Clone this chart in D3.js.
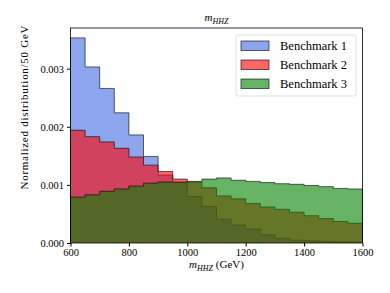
<!DOCTYPE html>
<html>
<head>
<meta charset="utf-8">
<script src="https://cdn.jsdelivr.net/npm/d3@7"></script>
<style>
    body { margin: 0; background: #fff; }
    svg text { font-family: "Liberation Serif", "Times New Roman", Times, "DejaVu Serif", serif; fill: #000; }
</style>
</head>
<body>
<div id="chart"></div>
<script>
// lower bin edges (GeV), each bin is 50 GeV wide
let binStarts = [600, 650, 700, 750, 800, 850, 900, 950, 1000, 1050,
    1100, 1150, 1200, 1250, 1300, 1350, 1400, 1450, 1500, 1550];
let binWidth = 50;

let benchmark1 = [0.00353, 0.00303, 0.00266, 0.00224, 0.00186, 0.00149, 0.00117, 0.00104, 0.00080, 0.00063,
    0.00041, 0.00031, 0.00024, 0.00014, 0.00008, 0.00005, 0.00004, 0.00003, 0.00002, 0.00002];
let benchmark2 = [0.00194, 0.00183, 0.00174, 0.00163, 0.00148, 0.00134, 0.00123, 0.00110, 0.00105, 0.00095,
    0.00081, 0.00076, 0.00068, 0.00062, 0.00058, 0.00053, 0.00047, 0.00042, 0.00037, 0.00034];
let benchmark3 = [0.00079, 0.00083, 0.00089, 0.00093, 0.00098, 0.00103, 0.00105, 0.00105, 0.00106, 0.00110,
    0.00112, 0.00108, 0.00106, 0.00104, 0.00102, 0.00101, 0.00099, 0.00097, 0.00094, 0.00093];

let seriesNames = ['Benchmark 1', 'Benchmark 2', 'Benchmark 3'];
let seriesColors = ['royalblue', 'red', 'green'];
let xTicks = [600, 800, 1000, 1200, 1400, 1600];
let yTicks = [0, 0.001, 0.002, 0.003];

let series = [benchmark1, benchmark2, benchmark3];
let serif = '"Liberation Serif", "Times New Roman", Times, "DejaVu Serif", serif';

let margin = { top: 28, right: 27.5, bottom: 50, left: 70.5 };
let totalWidth = 390;
let totalHeight = 293;
let innerWidth = totalWidth - margin.left - margin.right;
let innerHeight = totalHeight - margin.top - margin.bottom;

var x = d3.scaleLinear().domain([600, 1600]).range([0, innerWidth]);
var y = d3.scaleLinear().domain([0, 0.0037]).range([innerHeight, 0]);

var svg = d3.select("#chart").append("svg")
    .attr("width", totalWidth)
    .attr("height", totalHeight)
    .attr("font-family", serif)
    .append("g")
    .attr("transform", "translate(" + margin.left + "," + margin.top + ")");

// step outline for one histogram
function stepPath(values) {
    let pts = [[x(binStarts[0]), y(0)]];
    values.forEach(function(v, i) {
        pts.push([x(binStarts[i]), y(v)]);
        pts.push([x(binStarts[i] + binWidth), y(v)]);
    });
    pts.push([x(binStarts[binStarts.length - 1] + binWidth), y(0)]);
    return d3.line()(pts);
}

svg.selectAll(".hist")
    .data(series)
    .enter().append("path")
    .attr("class", "hist")
    .attr("d", stepPath)
    .attr("fill", function(d, i) { return seriesColors[i]; })
    .attr("fill-opacity", 0.6)
    .attr("stroke", "black")
    .attr("stroke-opacity", 0.6)
    .attr("stroke-width", 1);

// frame
svg.append("rect")
    .attr("width", innerWidth)
    .attr("height", innerHeight)
    .attr("fill", "none")
    .attr("stroke", "black")
    .attr("stroke-width", 0.8);

// x axis
var xAxis = svg.append("g")
    .attr("transform", "translate(0," + innerHeight + ")")
    .call(d3.axisBottom(x).tickValues(xTicks).tickSize(3.5).tickPadding(2).tickFormat(d3.format("d")));
xAxis.select(".domain").remove();
xAxis.selectAll("text").style("font-size", "10.5px");

// y axis
var yAxis = svg.append("g")
    .call(d3.axisLeft(y).tickValues(yTicks).tickSize(3.5).tickPadding(3).tickFormat(d3.format(".3f")));
yAxis.select(".domain").remove();
yAxis.selectAll("text").style("font-size", "10.5px");

// title
var title = svg.append("text")
    .attr("x", innerWidth / 2)
    .attr("y", -7)
    .style("text-anchor", "middle")
    .style("font-size", "11px")
    .style("font-style", "italic");
title.append("tspan").text("m");
title.append("tspan").attr("dy", 2.5).style("font-size", "8px").text("HHZ");

// x label
var xLabel = svg.append("text")
    .attr("x", innerWidth / 2)
    .attr("y", innerHeight + 25)
    .style("text-anchor", "middle")
    .style("font-size", "11px");
xLabel.append("tspan").style("font-style", "italic").text("m");
xLabel.append("tspan").attr("dy", 2.5).style("font-style", "italic").style("font-size", "8px").text("HHZ");
xLabel.append("tspan").attr("dy", -2.5).text(" (GeV)");

// y label
svg.append("text")
    .attr("transform", "rotate(-90)")
    .attr("x", -innerHeight / 2 + 28)
    .attr("y", -43)
    .style("text-anchor", "middle")
    .style("font-size", "11px")
    .attr("textLength", 164)
    .text("Normalized distribution/50 GeV");

// legend
var legend = svg.append("g")
    .attr("transform", "translate(" + (236 - margin.left) + "," + (35 - margin.top) + ")");
legend.append("rect")
    .attr("width", 120)
    .attr("height", 61)
    .attr("rx", 2.5)
    .attr("fill", "white")
    .attr("fill-opacity", 0.8)
    .attr("stroke", "#d6d6d6")
    .attr("stroke-width", 0.8);

var items = legend.selectAll(".item")
    .data(seriesNames)
    .enter().append("g")
    .attr("class", "item")
    .attr("transform", function(d, i) { return "translate(5," + (6 + i * 19) + ")"; });
items.append("rect")
    .attr("width", 28)
    .attr("height", 9.5)
    .attr("fill", function(d, i) { return seriesColors[i]; })
    .attr("fill-opacity", 0.6)
    .attr("stroke", "black")
    .attr("stroke-opacity", 0.6)
    .attr("stroke-width", 1);
items.append("text")
    .attr("x", 39)
    .attr("y", 9)
    .style("font-size", "12.5px")
    .text(function(d) { return d; });
</script>
</body>
</html>
